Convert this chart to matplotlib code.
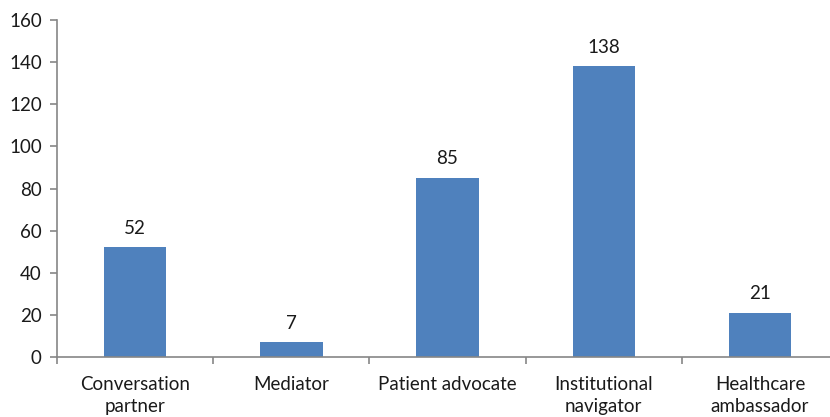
import matplotlib.pyplot as plt
import numpy as np

categories = ['Conversation\npartner', 'Mediator', 'Patient advocate',
              'Institutional\nnavigator', 'Healthcare\nambassador']
values = [52, 7, 85, 138, 21]
y_ticks = [0, 20, 40, 60, 80, 100, 120, 140, 160]

plt.rcParams['font.family'] = ['Lato', 'DejaVu Sans']

fig = plt.figure(figsize=(8.3, 4.17), dpi=100)
# the right end of the axis runs past the picture edge, as in the original
ax = fig.add_axes([0.0687, 0.1439, 0.9410, 0.8081])

x = np.arange(len(categories))
bars = ax.bar(x, values, width=0.40, color='#4F81BD')
for rect, v in zip(bars, values):
    ax.text(rect.get_x() + rect.get_width() / 2, v + 5, str(v),
            ha='center', va='bottom', fontsize=13.5, color='#1a1a1a')

ax.set_xlim(-0.5, len(categories) - 0.5)
ax.set_ylim(0, 160)
ax.set_yticks(y_ticks)

# category borders as major ticks, labels on minor ticks
ax.set_xticks(np.arange(len(categories) + 1) - 0.5)
ax.set_xticklabels([])
ax.set_xticks(x, minor=True)
ax.set_xticklabels(categories, minor=True, fontsize=13.5, color='#1a1a1a',
                   linespacing=1.3)
ax.tick_params(axis='x', which='minor', length=0, pad=14)
ax.tick_params(axis='x', which='major', length=5, color='#868686', width=1.2)
ax.tick_params(axis='y', length=5, color='#868686', width=1.2, labelsize=13.5,
               labelcolor='#1a1a1a', pad=6)

for side in ['top', 'right']:
    ax.spines[side].set_visible(False)
for side in ['left', 'bottom']:
    ax.spines[side].set_color('#868686')
    ax.spines[side].set_linewidth(1.2)

plt.savefig('out.png', dpi=100)
